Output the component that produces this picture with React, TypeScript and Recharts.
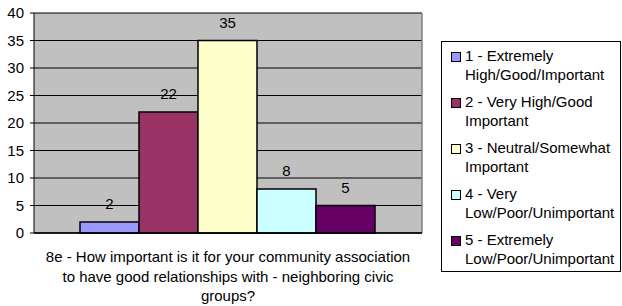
import React from "react";
import { BarChart, Bar, XAxis, YAxis, CartesianGrid, Legend, LabelList } from "recharts";

const categories = ["8e - How important is it for your community association to have good relationships with - neighboring civic groups?"];
const categoryLines = [
  "8e - How important is it for your community association",
  "to have good relationships with - neighboring civic",
  "groups?",
];
const seriesKeys = ["s1", "s2", "s3", "s4", "s5"];
const seriesNames = [
  "1 - Extremely High/Good/Important",
  "2 - Very High/Good Important",
  "3 - Neutral/Somewhat Important",
  "4 - Very Low/Poor/Unimportant",
  "5 - Extremely Low/Poor/Unimportant",
];
const legendLines = [
  ["1 - Extremely", "High/Good/Important"],
  ["2 - Very High/Good", "Important"],
  ["3 - Neutral/Somewhat", "Important"],
  ["4 - Very", "Low/Poor/Unimportant"],
  ["5 - Extremely", "Low/Poor/Unimportant"],
];
const seriesValues = [2, 22, 35, 8, 5];
const seriesColors = ["#9999FF", "#993366", "#FFFFCC", "#CCFFFF", "#660066"];
const yTicks = [0, 5, 10, 15, 20, 25, 30, 35, 40];

const data = categories.map((name) => {
  const row: any = { name };
  seriesKeys.forEach((k, i) => (row[k] = seriesValues[i]));
  return row;
});

const FONT = "'Liberation Sans', Arial, sans-serif";

const CategoryTick = (props: any) => {
  const { x, y } = props;
  const dys = [29, 48.6, 68.2];
  return (
    <g>
      {categoryLines.map((line, i) => (
        <text key={i} x={x} y={y + dys[i]} textAnchor="middle" fontSize={15} fontFamily={FONT} fill="#000">
          {line}
        </text>
      ))}
    </g>
  );
};

const LegendContent = () => (
  <div
    style={{
      border: "1.5px solid #000",
      boxSizing: "border-box",
      width: 180,
      height: 231,
      padding: "4px 0 0 9px",
      fontFamily: FONT,
      fontSize: 15,
      color: "#000",
      background: "#fff",
      textAlign: "left",
    }}
  >
    {legendLines.map((lines, i) => (
      <div key={i} style={{ display: "flex", alignItems: "flex-start", marginBottom: 8 }}>
        <div
          style={{
            width: 8,
            height: 8,
            border: "1px solid #000",
            background: seriesColors[i],
            marginTop: 6,
            marginRight: 4,
            flexShrink: 0,
          }}
        />
        <div style={{ lineHeight: "19px", whiteSpace: "nowrap" }}>
          {lines.map((l, j) => (
            <div key={j}>{l}</div>
          ))}
        </div>
      </div>
    ))}
  </div>
);

export default function App() {
  return (
    <div style={{ position: "absolute", left: 0, top: 0, width: 622, height: 306, background: "#fff" }}>
      <BarChart
        width={622}
        height={306}
        data={data}
        margin={{ top: 13, right: 200, left: 0, bottom: 0 }}
        barCategoryGap={46}
        barGap={0}
      >
        <CartesianGrid vertical={false} stroke="#000" fill="#C0C0C0" fillOpacity={1} />
        <CartesianGrid
          horizontal={false}
          stroke="#808080"
          strokeWidth={1.5}
          verticalCoordinatesGenerator={(p: any) => [p.offset.left + p.offset.width]}
        />
        <XAxis
          dataKey="name"
          tick={<CategoryTick />}
          tickLine={false}
          tickSize={0}
          tickMargin={0}
          axisLine={{ stroke: "#000", strokeWidth: 1.5 }}
          height={73}
          interval={0}
        />
        <YAxis
          domain={[0, 40]}
          ticks={yTicks}
          interval={0}
          width={34}
          tickSize={4}
          tickMargin={6}
          axisLine={{ stroke: "#000" }}
          tickLine={{ stroke: "#000" }}
          tick={{ fontSize: 15, fontFamily: FONT, fill: "#000" }}
        />
        <Legend
          content={<LegendContent />}
          layout="vertical"
          align="center"
          verticalAlign="middle"
          wrapperStyle={{ position: "absolute", left: 441, top: 41, width: 180, height: 231 }}
        />
        {seriesKeys.map((k, i) => (
          <Bar
            key={k}
            dataKey={k}
            name={seriesNames[i]}
            fill={seriesColors[i]}
            stroke="#000"
            strokeWidth={1.5}
            isAnimationActive={false}
          >
            <LabelList dataKey={k} position="top" offset={13} fontSize={15} fontFamily={FONT} fill="#000" />
          </Bar>
        ))}
      </BarChart>
    </div>
  );
}
